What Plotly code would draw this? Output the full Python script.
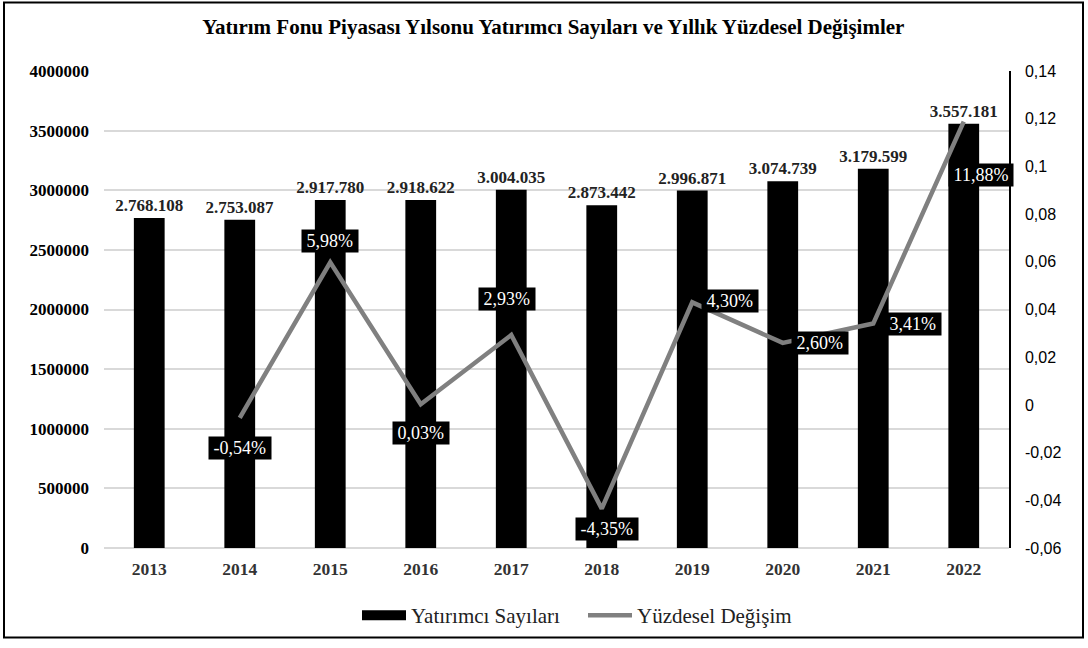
import plotly.graph_objects as go

years = ["2013", "2014", "2015", "2016", "2017", "2018", "2019", "2020", "2021", "2022"]
investors = [2768108, 2753087, 2917780, 2918622, 3004035, 2873442, 2996871, 3074739, 3179599, 3557181]
change_years = ["2014", "2015", "2016", "2017", "2018", "2019", "2020", "2021", "2022"]
change = [-0.0054, 0.0598, 0.0003, 0.0293, -0.0435, 0.0430, 0.0260, 0.0341, 0.1188]
right_tickvals = [-0.06, -0.04, -0.02, 0, 0.02, 0.04, 0.06, 0.08, 0.1, 0.12, 0.14]
right_ticktext = ["-0,06", "-0,04", "-0,02", "0", "0,02", "0,04", "0,06", "0,08", "0,1", "0,12", "0,14"]

title = "Yatırım Fonu Piyasası Yılsonu Yatırımcı Sayıları ve Yıllık Yüzdesel Değişimler"

SERIF = "Liberation Serif, Times New Roman, serif"
SANS = "Liberation Sans, Arial, sans-serif"

W, H = 1088, 648
ML, MR, MT, MB = 104, 79, 71, 97

fig = go.Figure()
fig.add_trace(go.Bar(
    x=years, y=investors, name="Yatırımcı Sayıları", showlegend=False,
    marker=dict(color="black", line=dict(width=0)),
    width=0.34,
    texttemplate="%{y:,}", textposition="outside", constraintext="none",
    textfont=dict(family=SERIF, size=17, color="#222222", weight="bold"),
    cliponaxis=False, yaxis="y",
))
# legend swatch for the bars (wide flat black rectangle like the reference)
fig.add_trace(go.Scatter(
    x=[None], y=[None], name="Yatırımcı Sayıları", mode="lines",
    line=dict(color="black", width=10), yaxis="y", legendrank=1,
))
fig.add_trace(go.Scatter(
    x=change_years, y=change, name="Yüzdesel Değişim",
    mode="lines", line=dict(color="#808080", width=4.5),
    yaxis="y2", cliponaxis=False, legendrank=2,
))

# label offsets (px) relative to each point
offsets = [(0, -30), (0, 21), (0, -29), (-4, 36), (5, -20), (38, 1), (37, 0), (40, 0), (17, -53)]
for (yr, v), (dx, dy) in zip(zip(change_years, change), offsets):
    fig.add_annotation(
        x=years.index(yr), y=v, xref="x", yref="y2",
        text="\u2009" + (f"{v*100:.2f}%").replace(".", ",") + "\u2009",
        showarrow=False, xshift=dx, yshift=dy,
        bgcolor="black", borderpad=1,
        font=dict(family=SERIF, size=18, color="white"),
    )

pw = W - ML - MR
ph = H - MT - MB
fig.add_shape(
    type="rect", xref="paper", yref="paper",
    x0=(4 - ML) / pw, x1=(1083 - ML) / pw,
    y0=(H - MB - 641) / ph, y1=(H - MB - 2) / ph,
    line=dict(color="black", width=2), fillcolor="rgba(0,0,0,0)", layer="below",
)

fig.update_layout(
    width=W, height=H,
    margin=dict(l=ML, r=MR, t=MT, b=MB),
    paper_bgcolor="white", plot_bgcolor="white",
    separators=",.",
    title=dict(text=title, x=0.4965, xref="paper", xanchor="center", y=1 - 27 / H, yanchor="middle",
               font=dict(family=SERIF, size=21, color="black", weight="bold")),
    showlegend=True,
    legend=dict(orientation="h", x=(583 - ML) / pw, xanchor="center", y=(H - MB - 619) / ph, yanchor="middle",
                font=dict(family=SERIF, size=21, color="#222222"), itemwidth=44, entrywidth=167,
                bgcolor="rgba(0,0,0,0)"),
    xaxis=dict(type="category", range=[-0.5, 9.5], showgrid=False, showline=False, ticks="",
               ticklabelstandoff=8,
               tickfont=dict(family=SERIF, size=17.5, color="#333333", weight="bold")),
    yaxis=dict(range=[0, 4000000], dtick=500000, tickformat="d", showgrid=True, gridcolor="#d9d9d9",
               gridwidth=1.5, zeroline=True, zerolinecolor="#d9d9d9", zerolinewidth=1.5, showline=False,
               ticks="", ticklabelstandoff=14,
               tickfont=dict(family=SERIF, size=17, color="black", weight="bold")),
    yaxis2=dict(range=[-0.06, 0.14], overlaying="y", side="right", tickvals=right_tickvals,
                ticktext=right_ticktext, showgrid=False, zeroline=False, showline=True,
                linecolor="black", linewidth=1.5, ticks="", ticklabelstandoff=11,
                tickfont=dict(family=SANS, size=16, color="black")),
    bargap=0.66,
)

fig.write_html("out.html", config={"displayModeBar": False},
               post_script="document.body.style.margin='0px';")
